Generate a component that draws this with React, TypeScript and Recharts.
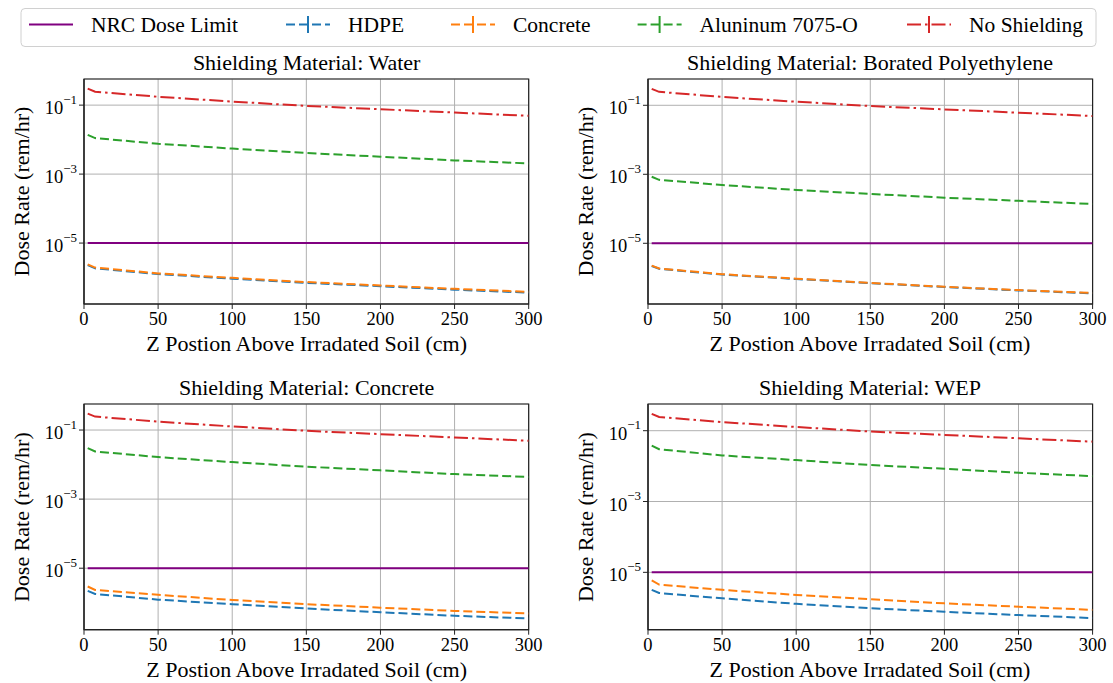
import { LineChart, Line, XAxis, YAxis, CartesianGrid, ReferenceArea } from "recharts"

// z position above irradiated soil (cm)
const Z_CM = [2.5, 7.5, 50, 100, 150, 200, 250, 300]
const X_TICKS = [0, 50, 100, 150, 200, 250, 300]
const Y_TICKS = [1e-5, 1e-3, 1e-1]
const NRC_LIMIT = 1e-5

// dose rates (rem/hr)
const NO_SHIELDING = [0.3, 0.245, 0.175, 0.127, 0.095, 0.076, 0.061, 0.049]

const WATER_HDPE = [2.3e-6, 1.85e-6, 1.26e-6, 9.3e-7, 7.0e-7, 5.6e-7, 4.45e-7, 3.65e-7]
const WATER_CONCRETE = [2.4e-6, 1.95e-6, 1.32e-6, 9.8e-7, 7.4e-7, 5.9e-7, 4.7e-7, 3.85e-7]
const WATER_ALUMINUM = [0.0138, 0.0111, 0.0076, 0.0055, 0.0041, 0.0032, 0.0025, 0.00204]

const BPE_HDPE = [2.2e-6, 1.82e-6, 1.24e-6, 9.2e-7, 7.0e-7, 5.4e-7, 4.3e-7, 3.55e-7]
const BPE_CONCRETE = [2.25e-6, 1.86e-6, 1.27e-6, 9.4e-7, 7.1e-7, 5.5e-7, 4.4e-7, 3.65e-7]
const BPE_ALUMINUM = [8.5e-4, 6.9e-4, 4.9e-4, 3.5e-4, 2.7e-4, 2.1e-4, 1.7e-4, 1.38e-4]

const CONCRETE_HDPE = [2.2e-6, 1.8e-6, 1.23e-6, 9.1e-7, 6.8e-7, 5.3e-7, 4.2e-7, 3.5e-7]
const CONCRETE_CONCRETE = [2.95e-6, 2.35e-6, 1.7e-6, 1.2e-6, 9.1e-7, 7.2e-7, 5.8e-7, 4.9e-7]
const CONCRETE_ALUMINUM = [0.03, 0.024, 0.0165, 0.0118, 0.0087, 0.0068, 0.0053, 0.0044]

const WEP_HDPE = [3.2e-6, 2.6e-6, 1.84e-6, 1.29e-6, 9.7e-7, 7.7e-7, 6.2e-7, 5.1e-7]
const WEP_CONCRETE = [5.9e-6, 4.5e-6, 3.2e-6, 2.3e-6, 1.73e-6, 1.33e-6, 1.07e-6, 8.7e-7]
const WEP_ALUMINUM = [0.038, 0.03, 0.02, 0.0148, 0.0107, 0.0084, 0.0065, 0.0052]

const PANEL_TITLES = [
  "Shielding Material: Water",
  "Shielding Material: Borated Polyethylene",
  "Shielding Material: Concrete",
  "Shielding Material: WEP",
]

const SERIES = [
  { key: "nrc", name: "NRC Dose Limit", color: "#800080", dash: undefined as string | undefined },
  { key: "hdpe", name: "HDPE", color: "#1f77b4", dash: "9 4" },
  { key: "concrete", name: "Concrete", color: "#ff7f0e", dash: "9 4" },
  { key: "aluminum", name: "Aluninum 7075-O", color: "#2ca02c", dash: "9 4" },
  { key: "none", name: "No Shielding", color: "#d62728", dash: "14 4 2.5 4" },
]

const FONT = '"Liberation Serif", "Times New Roman", Times, serif'
const SPINE = "#222"
const AXIS_W = 84
const TOP_PAD = 10
const RIGHT_PAD = 16
const X_AXIS_H = 30

// plot rectangles in page pixels + log10 y limits
const LAYOUT = [
  { x0: 84.3, x1: 529, y0: 79, y1: 304, lo: -6.767, hi: -0.242 },
  { x0: 647.7, x1: 1092.3, y0: 79, y1: 304, lo: -6.76, hi: -0.238 },
  { x0: 84.3, x1: 529, y0: 404.3, y1: 630, lo: -6.78, hi: -0.246 },
  { x0: 647.7, x1: 1092.3, y0: 404.3, y1: 630, lo: -6.62, hi: -0.246 },
]
const LEGEND_X = [29, 286, 451, 637.6, 907]

function buildRows(hdpe: number[], concrete: number[], aluminum: number[]) {
  return Z_CM.map((z, i) => ({
    z,
    nrc: NRC_LIMIT,
    hdpe: hdpe[i],
    concrete: concrete[i],
    aluminum: aluminum[i],
    none: NO_SHIELDING[i],
  }))
}

const PANEL_ROWS = [
  buildRows(WATER_HDPE, WATER_CONCRETE, WATER_ALUMINUM),
  buildRows(BPE_HDPE, BPE_CONCRETE, BPE_ALUMINUM),
  buildRows(CONCRETE_HDPE, CONCRETE_CONCRETE, CONCRETE_ALUMINUM),
  buildRows(WEP_HDPE, WEP_CONCRETE, WEP_ALUMINUM),
]

function XTick(props: any) {
  const { x, y, payload } = props
  return (
    <text x={x} y={y + 14.5} textAnchor="middle" fontFamily={FONT} fontSize={18.5} fill="#000">
      {payload.value}
    </text>
  )
}

function YTick(props: any) {
  const { x, y, payload } = props
  const exp = Math.round(Math.log10(payload.value))
  return (
    <text x={x} y={y + 9} textAnchor="end" fontFamily={FONT} fontSize={18.5} fill="#000">
      10
      <tspan dy={-10.5} fontSize={13}>
        {"\u2212" + Math.abs(exp)}
      </tspan>
    </text>
  )
}

function Panel({ rows, box }: { rows: any[]; box: (typeof LAYOUT)[number] }) {
  const yDomain = [Math.pow(10, box.lo), Math.pow(10, box.hi)]
  const width = box.x1 - box.x0 + AXIS_W + RIGHT_PAD
  const height = box.y1 - box.y0 + TOP_PAD + X_AXIS_H
  return (
    <div style={{ position: "absolute", left: box.x0 - AXIS_W, top: box.y0 - TOP_PAD }}>
      <LineChart
        width={width}
        height={height}
        data={rows}
        margin={{ top: TOP_PAD, right: RIGHT_PAD, left: 0, bottom: 0 }}
      >
        <CartesianGrid stroke="#b0b0b0" strokeWidth={1} />
        <XAxis
          type="number"
          dataKey="z"
          domain={[0, 300]}
          ticks={X_TICKS}
          allowDataOverflow
          height={X_AXIS_H}
          tickSize={5}
          tick={XTick}
          axisLine={{ stroke: SPINE, strokeWidth: 1.2 }}
          tickLine={{ stroke: SPINE }}
        />
        <YAxis
          type="number"
          scale="log"
          domain={yDomain}
          ticks={Y_TICKS}
          allowDataOverflow
          width={AXIS_W}
          tickSize={5}
          tick={YTick}
          axisLine={{ stroke: SPINE, strokeWidth: 1.2 }}
          tickLine={{ stroke: SPINE }}
        />
        {SERIES.map((s) => (
          <Line
            key={s.key}
            type="linear"
            dataKey={s.key}
            stroke={s.color}
            strokeWidth={2}
            strokeDasharray={s.dash}
            dot={false}
            isAnimationActive={false}
          />
        ))}
        <ReferenceArea
          x1={0}
          x2={300}
          y1={yDomain[0]}
          y2={yDomain[1]}
          fill="none"
          fillOpacity={0}
          stroke={SPINE}
          strokeWidth={1.2}
          ifOverflow="visible"
        />
      </LineChart>
    </div>
  )
}

function Labels() {
  return (
    <svg
      width={1113}
      height={683}
      style={{ position: "absolute", left: 0, top: 0, pointerEvents: "none" }}
      fontFamily={FONT}
    >
      <rect x={21} y={8.5} width={1075} height={38} rx={4} fill="#fff" stroke="#d0d0d0" />
      {SERIES.map((s, i) => {
        const lx = LEGEND_X[i]
        return (
          <g key={s.key}>
            <line x1={lx} x2={lx + 44} y1={24.5} y2={24.5} stroke={s.color} strokeWidth={2} strokeDasharray={s.dash} />
            {s.dash && <line x1={lx + 22} x2={lx + 22} y1={16} y2={33} stroke={s.color} strokeWidth={2} />}
            <text x={lx + 62} y={31.5} fontSize={21.5} fill="#000">
              {s.name}
            </text>
          </g>
        )
      })}
      {LAYOUT.map((b, i) => {
        const cx = (b.x0 + b.x1) / 2
        const cy = (b.y0 + b.y1) / 2
        return (
          <g key={i}>
            <text x={cx} y={b.y0 - 9} textAnchor="middle" fontSize={22} fill="#000">
              {PANEL_TITLES[i]}
            </text>
            <text x={cx} y={b.y1 + 47} textAnchor="middle" fontSize={22} fill="#000">
              Z Postion Above Irradated Soil (cm)
            </text>
            <text
              transform={`translate(${b.x0 - 55}, ${cy}) rotate(-90)`}
              textAnchor="middle"
              fontSize={22}
              fill="#000"
            >
              Dose Rate (rem/hr)
            </text>
          </g>
        )
      })}
    </svg>
  )
}

export default function App() {
  return (
    <div style={{ position: "absolute", left: 0, top: 0, width: 1113, height: 683, background: "#fff" }}>
      {PANEL_ROWS.map((rows, i) => (
        <Panel key={i} rows={rows} box={LAYOUT[i]} />
      ))}
      <Labels />
    </div>
  )
}
